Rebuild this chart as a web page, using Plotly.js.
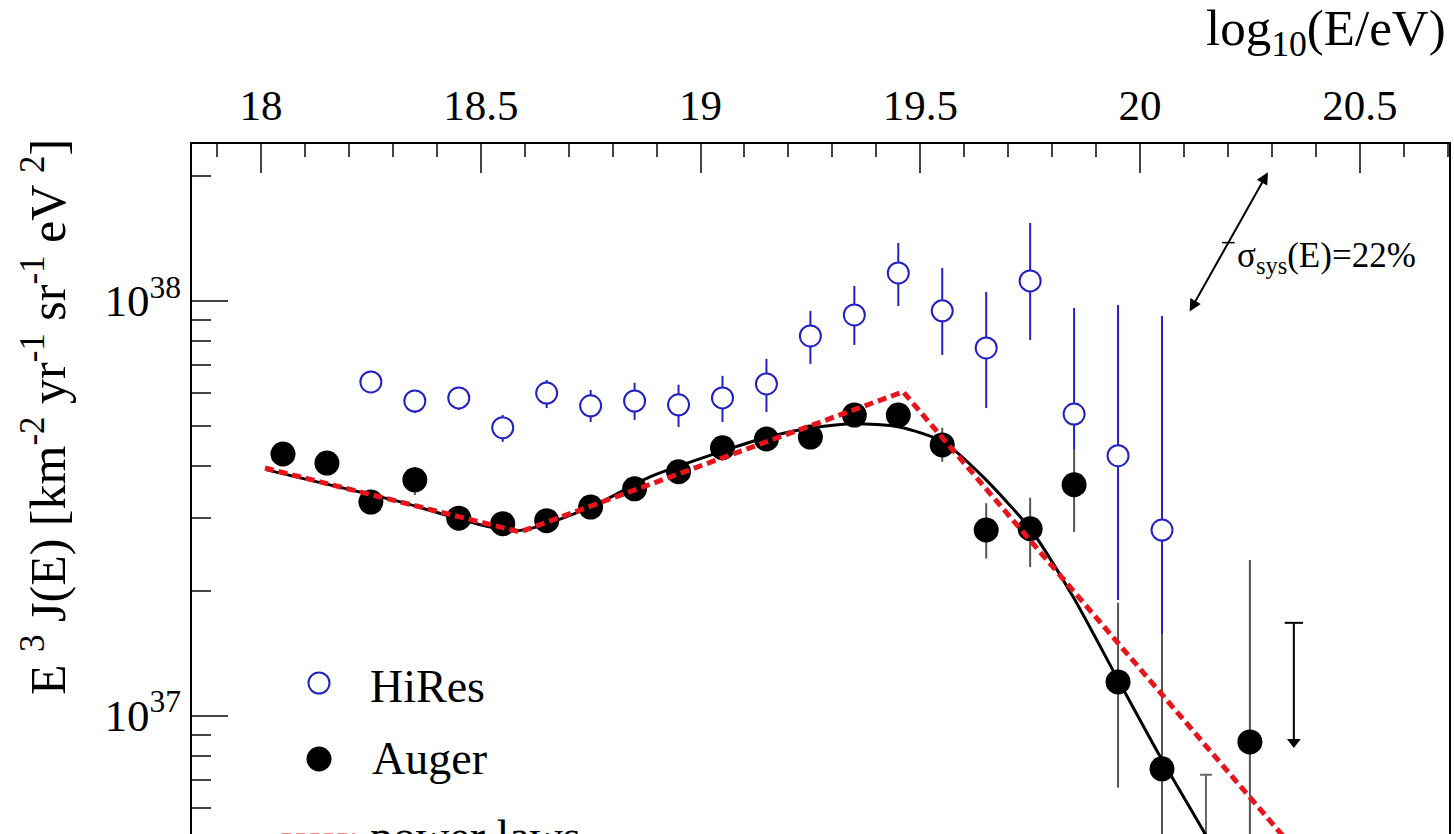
<!DOCTYPE html>
<html><head><meta charset="utf-8">
<script src="https://cdn.plot.ly/plotly-3.0.1.min.js"></script>
<style>
html,body{margin:0;padding:0;background:#fff;overflow:hidden}
#wrap{width:1454px;height:834px;overflow:hidden;position:relative;background:#fff}
</style>
</head><body>
<div id="wrap"><div id="plot"></div></div>
<script>
// ---- data ----
const hiresE    = [18.25,18.35,18.45,18.55,18.65,18.75,18.85,18.95,19.05,19.15,19.25,19.35,19.45,19.55,19.65,19.75,19.85,19.95,20.05];
const hiresFlux = [6.37e37,5.73e37,5.83e37,4.94e37,5.99e37,5.58e37,5.73e37,5.61e37,5.83e37,6.30e37,8.22e37,9.24e37,1.166e38,9.45e37,7.69e37,1.116e38,5.33e37,4.23e37,2.80e37];
const hiresUp   = [6.66e37,6.03e37,6.19e37,5.30e37,6.44e37,6.09e37,6.34e37,6.27e37,6.59e37,7.24e37,9.45e37,1.085e38,1.377e38,1.199e38,1.049e38,1.539e38,9.60e37,9.76e37,9.19e37];
const hiresLow  = [6.09e37,5.36e37,5.45e37,4.57e37,5.51e37,5.10e37,5.16e37,4.96e37,5.10e37,5.39e37,7.04e37,7.82e37,9.71e37,7.40e37,5.51e37,8.04e37,4.37e37,1.90e37,1.565e37];

const augerE    = [18.05,18.15,18.25,18.35,18.45,18.55,18.65,18.75,18.85,18.95,19.05,19.15,19.25,19.35,19.45,19.55,19.65,19.75,19.85,19.95,20.05,20.25];
const augerFlux = [4.27e37,4.06e37,3.27e37,3.70e37,2.99e37,2.90e37,2.95e37,3.18e37,3.52e37,3.87e37,4.42e37,4.64e37,4.69e37,5.30e37,5.30e37,4.49e37,2.80e37,2.82e37,3.60e37,1.205e37,7.44e36,8.64e36];
const augerUp   = [4.40e37,4.19e37,3.40e37,3.97e37,3.10e37,3.00e37,3.06e37,3.30e37,3.66e37,4.03e37,4.62e37,4.88e37,4.96e37,5.62e37,5.65e37,4.94e37,3.25e37,3.35e37,4.37e37,1.87e37,1.565e37,2.37e37];
const augerLow  = [4.14e37,3.93e37,3.14e37,3.40e37,2.88e37,2.80e37,2.84e37,3.06e37,3.38e37,3.71e37,4.22e37,4.40e37,4.43e37,4.98e37,4.95e37,4.09e37,2.39e37,2.28e37,2.77e37,6.70e36,3.0e36,2.0e36];

// Auger bin with capped error bar (point itself below the visible range)
const augerCapE    = [20.15];
const augerCapFlux = [4.2e36];
const augerCapUp   = [7.20e36];

// Auger upper limit (arrow)
const limitE     = [20.35];
const limitFlux  = [1.673e37];
const limitArrow = [8.64e36];

// broken power laws (red dashed)
const plE    = [18.009,18.589,19.461,20.312,20.55];
const plFlux = [3.95e37,2.77e37,6.03e37,5.30e36,2.7e36];

// smooth fit (black)
const fitE    = [18.013,18.30,18.583,18.75,18.885,19.051,19.151,19.251,19.351,19.452,19.552,19.643,19.752,19.848,19.950,20.050,20.143,20.25];
const fitFlux = [3.91e37,3.31e37,2.79e37,3.18e37,3.76e37,4.34e37,4.69e37,4.93e37,5.05e37,4.96e37,4.57e37,3.76e37,2.80e37,1.93e37,1.22e37,7.82e36,5.30e36,3.3e36];

// systematic energy-scale arrow
const sysE    = [20.111,20.291];
const sysFlux = [9.34e37,2.04e38];
const sysMidE = [20.201];
const sysMidFlux = [1.38e38];
const sysLabelE = 20.216;
const sysLabelFlux = 1.268e38;

const yTickVals = [1e37,1e38];
const yTickText = ['10<sup>37</sup>','10<sup>38</sup>'];
const yMinorVals = [2e36,3e36,4e36,5e36,6e36,7e36,8e36,9e36,2e37,3e37,4e37,5e37,6e37,7e37,8e37,9e37,2e38];

const legendLabels = ['HiRes','Auger','power laws'];

// ---- styling ----
const SERIF = 'Liberation Serif, Times New Roman, serif';
const BLUE = '#2222c4';
const RED = '#e8141c';
const W = 1454, H = 943, ML = 192, MR = 5, MT = 144, MB = 20;
const PW = W-ML-MR, PH = H-MT-MB;
const px2paperX = p => (p-ML)/PW;
const px2paperY = p => (MT+PH-p)/PH;

function errs(v, up, lo){
  return {type:'data', symmetric:false,
    array: up.map((u,i)=>u-v[i]),
    arrayminus: lo.map((l,i)=>v[i]-l)};
}

const traces = [
  {x:hiresE, y:hiresFlux, mode:'markers', type:'scatter', name:'HiRes', showlegend:false,
   marker:{symbol:'circle', size:21, color:'white', line:{color:BLUE, width:2}},
   error_y:Object.assign(errs(hiresFlux,hiresUp,hiresLow),{color:BLUE, thickness:2, width:0})},
  {x:augerE, y:augerFlux, mode:'markers', type:'scatter', name:'Auger', showlegend:false,
   marker:{symbol:'circle', size:25, color:'black'},
   error_y:Object.assign(errs(augerFlux,augerUp,augerLow),{color:'#555', thickness:2, width:0})},
  {x:augerCapE, y:augerCapFlux, mode:'markers', type:'scatter', showlegend:false,
   marker:{symbol:'circle', size:25, color:'black'},
   error_y:{type:'data', symmetric:false, array:augerCapUp.map((u,i)=>u-augerCapFlux[i]), arrayminus:[0],
            color:'#666', thickness:2, width:6}},
  {x:limitE, y:limitFlux, mode:'markers', type:'scatter', showlegend:false,
   marker:{symbol:'line-ew', size:13, color:'black', line:{color:'black', width:2}},
   error_y:{type:'data', symmetric:false, array:[0], arrayminus:limitFlux.map((v,i)=>v-limitArrow[i]),
            color:'black', thickness:2, width:0}},
  {x:limitE, y:limitArrow, mode:'markers', type:'scatter', showlegend:false,
   marker:{symbol:'triangle-down', size:12, color:'black'}},
  {x:fitE, y:fitFlux, mode:'lines', type:'scatter', name:'fit', showlegend:false,
   line:{color:'black', width:3, shape:'spline', smoothing:0.7}},
  {x:plE, y:plFlux, mode:'lines', type:'scatter', name:'power laws', showlegend:false,
   line:{color:RED, width:5, dash:'9px,5px'}},
  {x:sysMidE, y:sysMidFlux, mode:'markers', type:'scatter', showlegend:false,
   marker:{symbol:'line-ew', size:9, color:'black', line:{color:'black', width:1.5}}}
];

const annotations = [
  // systematic double arrow
  {x:sysE[1], y:Math.log10(sysFlux[1]), ax:sysE[0], ay:Math.log10(sysFlux[0]),
   xref:'x', yref:'y', axref:'x', ayref:'y', text:'', showarrow:true,
   arrowhead:2, startarrowhead:2, arrowside:'end+start', arrowsize:1.2, startarrowsize:1.2,
   arrowwidth:2, arrowcolor:'black'},
  {x:sysLabelE, y:Math.log10(sysLabelFlux), xref:'x', yref:'y', xanchor:'left', yanchor:'middle',
   text:'σ<sub>sys</sub>(E)=22%', showarrow:false, font:{family:SERIF, size:35, color:'black'}},
  // axis titles
  {x:1, y:1, xref:'paper', yref:'paper', xanchor:'right', yanchor:'middle', xshift:-1, yshift:112,
   text:'log<sub>10</sub>(E/eV)', showarrow:false, font:{family:SERIF, size:51, color:'black'}},
  {x:0, y:px2paperY(417), xref:'paper', yref:'paper', xanchor:'center', yanchor:'middle', xshift:-(ML-45),
   textangle:-90, text:'E <sup>3</sup> J(E) [km<sup>-2</sup> yr<sup>-1</sup> sr<sup>-1</sup> eV <sup>2</sup>]',
   showarrow:false, font:{family:SERIF, size:50, color:'black'}},
  // legend texts
  {x:px2paperX(368), y:px2paperY(686), xref:'paper', yref:'paper', xanchor:'left', yanchor:'middle',
   text:legendLabels[0], showarrow:false, font:{family:SERIF, size:46, color:'black'}},
  {x:px2paperX(370), y:px2paperY(758), xref:'paper', yref:'paper', xanchor:'left', yanchor:'middle',
   text:legendLabels[1], showarrow:false, font:{family:SERIF, size:46, color:'black'}},
  {x:px2paperX(368), y:px2paperY(836), xref:'paper', yref:'paper', xanchor:'left', yanchor:'middle',
   text:legendLabels[2], showarrow:false, font:{family:SERIF, size:46, color:'black'}}
];

const shapes = [
  {type:'circle', xref:'paper', yref:'paper', xsizemode:'pixel', ysizemode:'pixel',
   xanchor:px2paperX(319), yanchor:px2paperY(683), x0:-10.5, x1:10.5, y0:-10.5, y1:10.5,
   line:{color:BLUE, width:2}, fillcolor:'white'},
  {type:'circle', xref:'paper', yref:'paper', xsizemode:'pixel', ysizemode:'pixel',
   xanchor:px2paperX(319), yanchor:px2paperY(759), x0:-12.5, x1:12.5, y0:-12.5, y1:12.5,
   line:{color:'black', width:0}, fillcolor:'black'},
  {type:'line', xref:'paper', yref:'paper', x0:px2paperX(282), x1:px2paperX(355),
   y0:px2paperY(836), y1:px2paperY(836), line:{color:RED, width:5, dash:'9px,5px'}}
];

const layout = {
  width:W, height:H,
  margin:{l:ML, r:MR, t:MT, b:MB, pad:0},
  paper_bgcolor:'white', plot_bgcolor:'white',
  showlegend:false,
  font:{family:SERIF, color:'black'},
  xaxis:{
    range:[17.843,20.703], side:'top', type:'linear',
    tick0:18, dtick:0.5, ticks:'inside', ticklen:29, tickwidth:2, tickcolor:'#444',
    showline:true, linewidth:2, linecolor:'black', mirror:true,
    showgrid:false, zeroline:false,
    tickfont:{family:SERIF, size:43, color:'black'},
    ticklabelstandoff:5,
    minor:{ticks:'inside', ticklen:13, tickwidth:2, tickcolor:'#444', tick0:18, dtick:0.1, showgrid:false}
  },
  yaxis:{
    type:'log', range:[36.5,38.3776],
    tickmode:'array', tickvals:yTickVals, ticktext:yTickText,
    ticks:'inside', ticklen:36, tickwidth:2, tickcolor:'#444',
    showline:true, linewidth:2, linecolor:'black', mirror:true,
    showgrid:false, zeroline:false,
    tickfont:{family:SERIF, size:45, color:'black'},
    ticklabelstandoff:0,
    minor:{tickmode:'array', tickvals:yMinorVals, ticks:'inside', ticklen:19, tickwidth:2, tickcolor:'#444', showgrid:false}
  },
  annotations:annotations,
  shapes:shapes
};

Plotly.newPlot('plot', traces, layout, {displayModeBar:false, staticPlot:true});
</script>
</body></html>
